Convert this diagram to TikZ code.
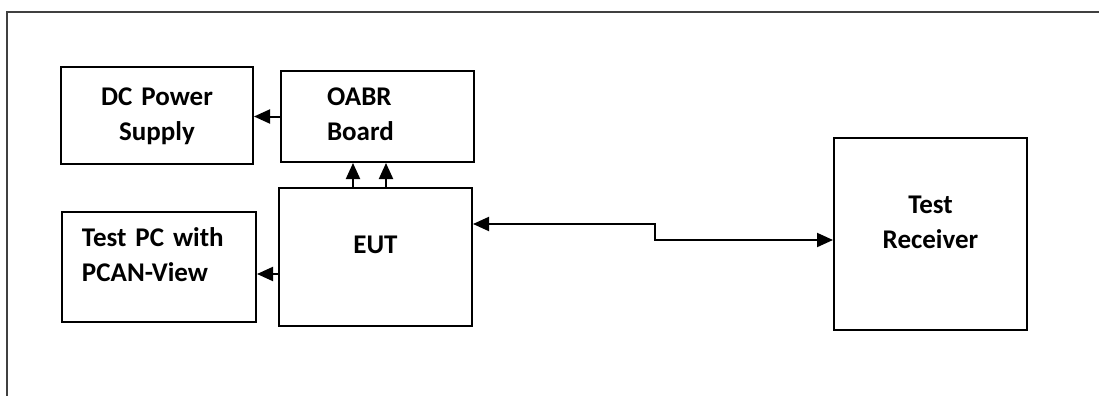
\documentclass[tikz,border=0pt]{standalone}
\usepackage{fontspec}
\setmainfont{Carlito}
\usetikzlibrary{positioning,arrows.meta}

\begin{document}
\begin{tikzpicture}[x=0.5pt,y=-0.5pt,line width=1pt,
        box/.style={draw,anchor=north west,inner ysep=0pt,
            font=\fontsize{13.5}{17.5}\selectfont\bfseries},
        arr/.style={-{Triangle[length=8pt,width=7pt]}},
        twoarr/.style={{Triangle[length=8pt,width=7pt]}-{Triangle[length=8pt,width=7pt]}}]
        \useasboundingbox (0,0) rectangle (1099,396);
        % frame (cut off on the right and at the bottom)
        \draw[black!75] (1099,12) -- (7,12) -- (7,396);
        % boxes
        \node[box,inner xsep=0pt,text width=96pt,align=center,
            text height=19pt,text depth=29.5pt] (dc) at (60,66) {DC Power\\Supply};
        \node[box,inner xsep=23pt,text width=50.5pt,align=left,
            text height=17pt,text depth=28.5pt] (oabr) at (280,70) {OABR\\Board};
        \node[box,inner xsep=0pt,text width=96.5pt,align=center,
            text height=32.5pt,text depth=36.5pt] (eut) at (278,187) {EUT};
        \node[box,inner xsep=10pt,text width=77pt,align=left,
            text height=17pt,text depth=38pt] (pc) at (61,211) {Test PC with\\PCAN-View};
        \node[box,inner xsep=0pt,text width=96.5pt,align=center,
            text height=37.5pt,text depth=58.5pt] (rx) at (833,137) {Test\\Receiver};
        % connectors
        \coordinate (pcin) at ([yshift=-3.5pt]pc.east);
        \coordinate (eutout) at ([yshift=16.5pt]eut.east);
        \coordinate (rxin) at ([yshift=-3pt]rx.west);
        \draw[arr] (oabr.west) -- (oabr.west -| dc.east);
        \draw[arr] (eut.west |- pcin) -- (pcin);
        \draw[arr] ([xshift=-11.25pt]eut.north) -- ([xshift=-11.25pt]eut.north |- oabr.south);
        \draw[arr] ([xshift=5.25pt]eut.north) -- ([xshift=5.25pt]eut.north |- oabr.south);
        \draw[twoarr] (eutout) -- ++(182,0) |- (rxin);
    \end{tikzpicture}
\end{document}
